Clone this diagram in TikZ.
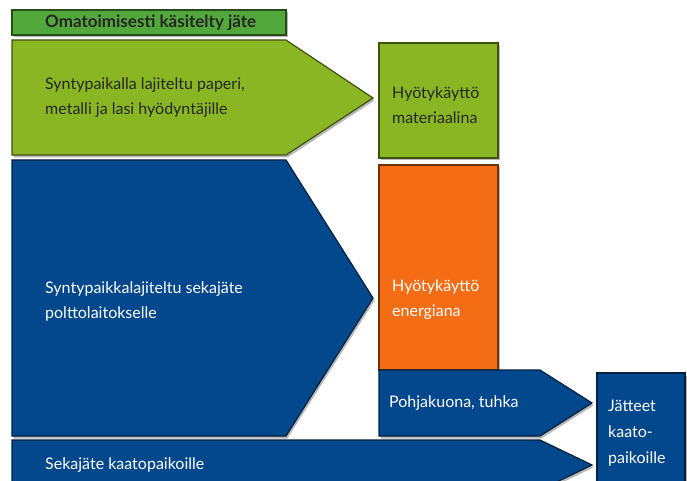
\documentclass[tikz,border=0pt]{standalone}
\usepackage{fontspec}
\setmainfont{Lato}
\definecolor{dgreen}{HTML}{52A83A}
\definecolor{lgreen}{HTML}{8AB624}
\definecolor{dblue}{HTML}{03478C}
\definecolor{orng}{HTML}{F46C14}
\begin{document}
\begin{tikzpicture}[x=1pt,y=-1pt,
  blk/.style={line width=1.2pt,line join=miter},
  shd/.style={fill=black!28},
  lbl/.style={anchor=west,inner sep=0pt,font=\fontsize{16}{25}\selectfont,align=left},
  lblw/.style={lbl,text=white},
  lbld/.style={lbl,text=black!85}]
\useasboundingbox (0,0) rectangle (687,481);
\begin{scope}
\clip (0,0) rectangle (687,481);
% shadows
\begin{scope}[shift={(1.5,2.5)}]
\fill[shd] (12,10) rectangle (286,35);
\fill[shd] (12,40) -- (286,40) -- (373,98) -- (286,155) -- (12,155) -- cycle;
\fill[shd] (12,160) -- (286,160) -- (373,298) -- (286,436) -- (12,436) -- cycle;
\fill[shd] (379,43) rectangle (498,158);
\fill[shd] (379,165) rectangle (498,370);
\fill[shd] (379,370) -- (540,370) -- (592,403) -- (540,436) -- (379,436) -- cycle;
\fill[shd] (597,373) rectangle (685,495);
\end{scope}
% top bar
\draw[blk,fill=dgreen,draw=dgreen!45!black] (12,10) rectangle (286,35);
\node[lbld,font=\fontsize{17}{25}\selectfont\bfseries] (t0) at (45,23) {Omatoimisesti käsitelty jäte};
% green arrow
\draw[blk,fill=lgreen,draw=lgreen!45!black] (12,40) -- (286,40) -- (373,98) -- (286,155) -- (12,155) -- cycle;
\node[lbld] (t1) at (45,97.5) {Syntypaikalla lajiteltu paperi,\\metalli ja lasi hyödyntäjille};
% blue arrow
\draw[blk,fill=dblue,draw=dblue!45!black] (12,160) -- (286,160) -- (373,298) -- (286,436) -- (12,436) -- cycle;
\node[lblw] (t2) at (45,301.5) {Syntypaikkalajiteltu sekajäte\\polttolaitokselle};
% material box
\draw[blk,fill=lgreen,draw=lgreen!45!black] (379,43) rectangle (498,158);
\node[lbld] (t3) at (392,105) {Hyötykäyttö\\materiaalina};
% orange box
\draw[blk,fill=orng,draw=orng!45!black] (379,165) rectangle (498,370);
\node[lblw] (t4) at (392,300) {Hyötykäyttö\\energiana};
% bottom arrow
\fill[shd,shift={(1.5,2.5)}] (12,440) -- (540,440) -- (592,465) -- (540,490) -- (12,490) -- cycle;
\draw[blk,fill=dblue,draw=dblue!45!black] (12,440) -- (540,440) -- (592,465) -- (540,490) -- (12,490) -- cycle;
\node[lblw] (t6) at (45,465) {Sekajäte kaatopaikoille};
% pohjakuona arrow
\draw[blk,fill=dblue,draw=dblue!45!black] (379,370) -- (540,370) -- (592,403) -- (540,436) -- (379,436) -- cycle;
\node[lblw] (t5) at (389,403) {Pohjakuona, tuhka};
% jatteet box
\draw[blk,fill=dblue,draw=dblue!45!black] (597,373) rectangle (685,495);
\node[lblw,font=\fontsize{16}{26}\selectfont] (t7) at (608,433) {Jätteet\\kaato-\\paikoille};
\end{scope}
\end{tikzpicture}
\end{document}
